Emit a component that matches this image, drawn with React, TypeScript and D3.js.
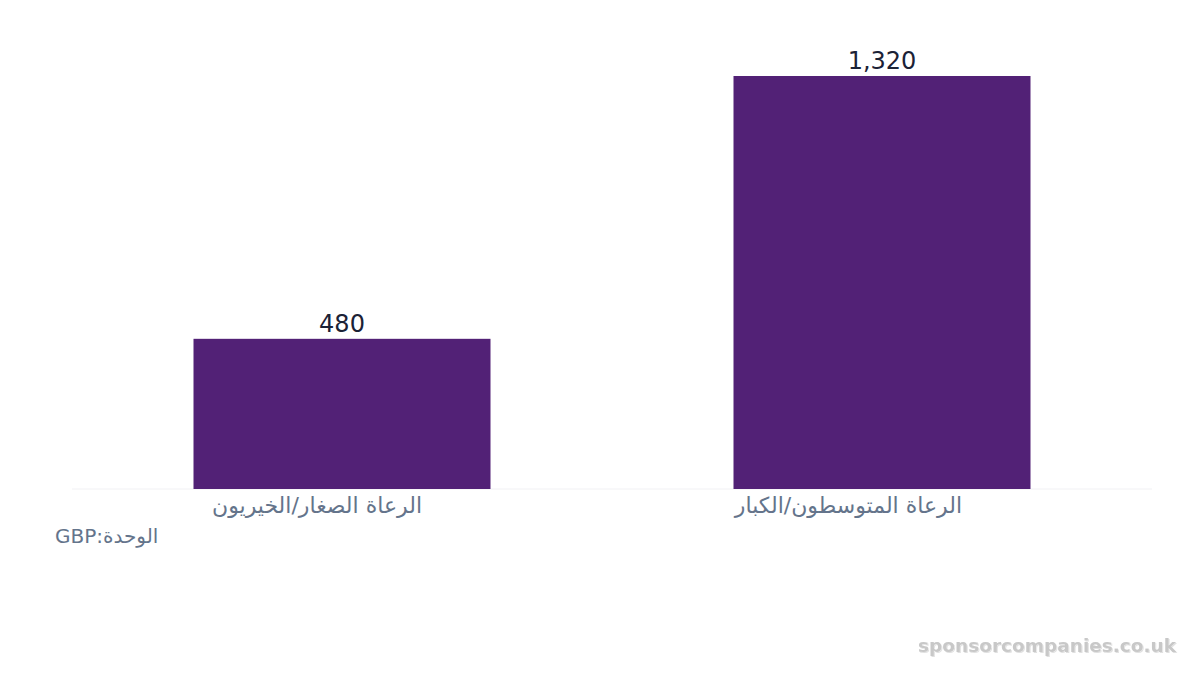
import React from 'react';
import * as d3 from 'd3';

// categories and values
const categories = ['الرعاة الصغار/الخيريون', 'الرعاة المتوسطون/الكبار'];
const values = [480, 1320];
const unitLabel = 'الوحدة:GBP';
const watermark = 'sponsorcompanies.co.uk';

const W = 1200;
const H = 675;
const margin = { top: 76, right: 48, bottom: 186, left: 72 };

export default function App() {
  const innerW = W - margin.left - margin.right;
  const innerH = H - margin.top - margin.bottom;

  const x = d3.scaleBand<string>()
    .domain(categories)
    .range([0, innerW])
    .paddingInner(0.45)
    .paddingOuter(0.225);

  const y = d3.scaleLinear()
    .domain([0, d3.max(values) ?? 0])
    .range([innerH, 0]);

  const fmt = d3.format(',');
  const font = '"DejaVu Sans", sans-serif';

  return (
    <svg
      width={W}
      height={H}
      style={{ position: 'fixed', left: 0, top: 0, background: '#fff' }}
      fontFamily={font}
    >
      <defs>
        <filter id="wm-shadow" x="-5%" y="-20%" width="110%" height="140%">
          <feDropShadow dx="1" dy="1" stdDeviation="0.6" floodColor="#000" floodOpacity="0.12" />
        </filter>
      </defs>
      <g transform={`translate(${margin.left},${margin.top})`}>
        {/* baseline */}
        <line x1={0} x2={innerW} y1={innerH} y2={innerH} stroke="#f1f1f4" strokeWidth={1} />

        {categories.map((c, i) => {
          const bx = x(c) ?? 0;
          const by = y(values[i]);
          const cx = bx + x.bandwidth() / 2;
          return (
            <g key={c}>
              <rect x={bx} y={by} width={x.bandwidth()} height={innerH - by} fill="#522176" />
              <text x={cx} y={by - 7} textAnchor="middle" fontSize={24} fill="#1b2236">
                {fmt(values[i])}
              </text>
              {/* label sits a bit left of the bar centre, as in the reference */}
              <text
                x={cx + 80}
                y={innerH + 24}
                textAnchor="start"
                direction="rtl"
                fontSize={22}
                fill="#64748b"
              >
                {c}
              </text>
            </g>
          );
        })}
      </g>

      <text x={55} y={543} textAnchor="end" direction="rtl" fontSize={20} fill="#64748b">
        {unitLabel}
      </text>

      <text
        x={1176}
        y={652}
        textAnchor="end"
        fontSize={18.5}
        fontWeight="bold"
        fill="#c8c8c8"
        filter="url(#wm-shadow)"
      >
        {watermark}
      </text>
    </svg>
  );
}
